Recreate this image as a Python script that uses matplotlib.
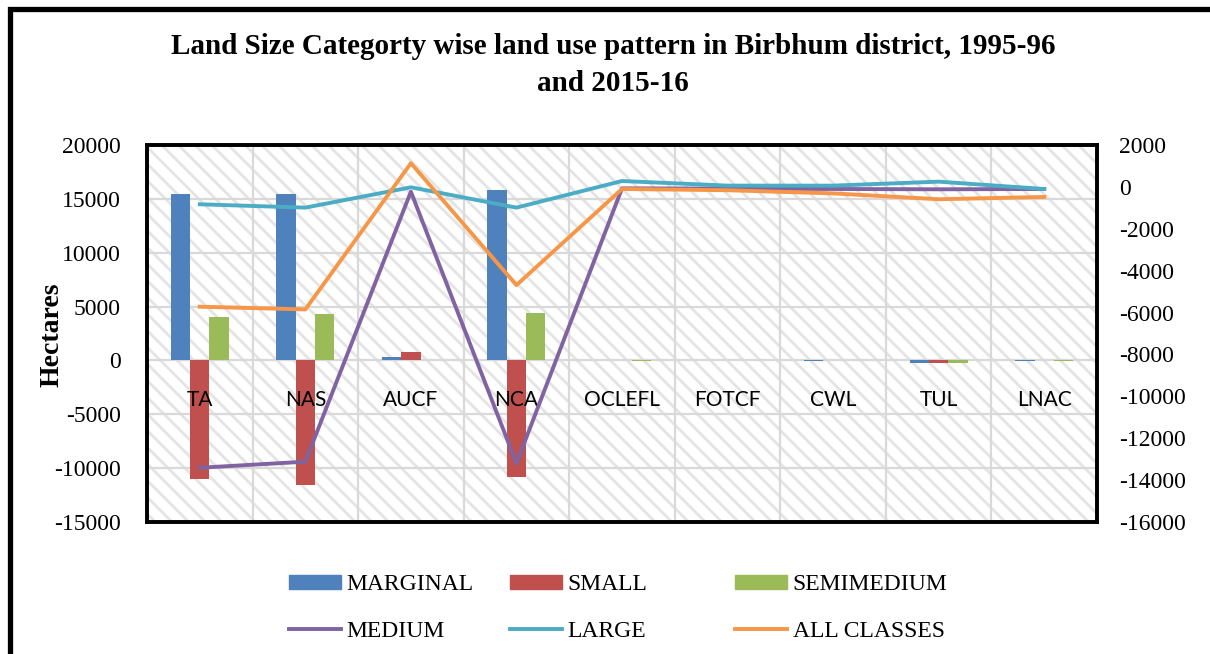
import matplotlib
matplotlib.use("Agg")
import matplotlib.pyplot as plt
from matplotlib.patches import Rectangle, Patch
from matplotlib.lines import Line2D
import numpy as np

categories = ["TA", "NAS", "AUCF", "NCA", "OCLEFL", "FOTCF", "CWL", "TUL", "LNAC"]
marginal = [15420, 15450, 290, 15790, 0, 0, -40, -200, -40]
small = [-11040, -11570, 780, -10800, 0, 0, 0, -200, 0]
semimedium = [4000, 4280, 0, 4370, -40, 0, 0, -200, -40]
medium = [-13410, -13120, -230, -13200, -70, -80, -100, -115, -100]
large = [-830, -990, -20, -990, 280, 60, 60, 250, -100]
all_classes = [-5720, -5850, 1130, -4690, -100, -160, -310, -590, -480]

left_ticks = list(range(-15000, 20001, 5000))
right_ticks = list(range(-16000, 2001, 2000))

C_BLUE = "#4F81BD"
C_RED = "#C0504D"
C_GREEN = "#9BBB59"
C_PURPLE = "#8064A2"
C_CYAN = "#4BACC6"
C_ORANGE = "#F79646"

serif = "Liberation Serif"
plt.rcParams["hatch.linewidth"] = 2.0

W, H = 1210, 654
fig = plt.figure(figsize=(W / 100, H / 100), dpi=100)
L, R, T, B = 147, 1097, 145, 522
ax = fig.add_axes([L / W, 1 - B / H, (R - L) / W, (B - T) / H])

# hatched background
bg = Rectangle((0, 0), 1, 1, transform=ax.transAxes, facecolor="white",
               edgecolor="#e4e4e4", lw=0, hatch="\\\\", zorder=0)
ax.add_patch(bg)
ax.set_facecolor("white")

x = np.arange(len(categories))
bw = 0.183
ax.bar(x - bw, marginal, bw, color=C_BLUE, zorder=3)
ax.bar(x, small, bw, color=C_RED, zorder=3)
ax.bar(x + bw, semimedium, bw, color=C_GREEN, zorder=3)

ax.set_xlim(-0.5, len(categories) - 0.5)
ax.set_ylim(-15000, 20000)
ax.set_yticks(left_ticks)
ax.set_yticklabels([str(v) for v in left_ticks], fontfamily=serif, fontsize=17)
ax.tick_params(axis="y", length=0, pad=19)
ax.set_xticks([])
for v in left_ticks:
    ax.axhline(v, color="#d9d9d9", lw=1.6, zorder=1)
for b in np.arange(0.5, len(categories) - 0.5, 1):
    ax.axvline(b, color="#d9d9d9", lw=1.6, zorder=1)

for i, c in enumerate(categories):
    ax.text(i, -3700, c, ha="center", va="center", fontfamily="Lato",
            fontsize=15, zorder=4)

for s in ax.spines.values():
    s.set_linewidth(2.6)
    s.set_color("black")

ax2 = ax.twinx()
ax2.plot(x, medium, color=C_PURPLE, lw=2.8, zorder=5)
ax2.plot(x, large, color=C_CYAN, lw=2.8, zorder=5)
ax2.plot(x, all_classes, color=C_ORANGE, lw=2.8, zorder=5)
ax2.set_ylim(-16000, 2000)
ax2.set_yticks(right_ticks)
ax2.set_yticklabels([str(v) for v in right_ticks], fontfamily=serif, fontsize=17)
ax2.tick_params(axis="y", length=0, pad=16)
for s in ax2.spines.values():
    s.set_linewidth(2.6)
    s.set_color("black")

fig.text(52 / W, 1 - 335 / H, "Hectares", rotation=90, ha="center", va="center",
         fontfamily=serif, fontweight="bold", fontsize=20)

fig.text(613 / W, 1 - 65 / H,
         "Land Size Categorty wise land use pattern in Birbhum district, 1995-96\nand 2015-16",
         ha="center", va="center", fontfamily=serif, fontweight="bold",
         fontsize=21, linespacing=1.45)

# outer frame (partially visible)
frame = Rectangle((10 / W, -0.1), 1.2, 1 - 8.5 / H + 0.1, transform=fig.transFigure,
                  fill=False, edgecolor="black", lw=3.8, zorder=10)
fig.add_artist(frame)

legend_cols = [
    (289, [Patch(color=C_BLUE), Line2D([], [], color=C_PURPLE, lw=2.8)], ["MARGINAL", "MEDIUM"]),
    (510, [Patch(color=C_RED), Line2D([], [], color=C_CYAN, lw=2.8)], ["SMALL", "LARGE"]),
    (735, [Patch(color=C_GREEN), Line2D([], [], color=C_ORANGE, lw=2.8)], ["SEMIMEDIUM", "ALL CLASSES"]),
]
for px, handles, labels in legend_cols:
    fig.legend(handles, labels, loc="upper left", bbox_to_anchor=(px / W, 1 - 574 / H),
               frameon=False, borderpad=0, borderaxespad=0, handlelength=2.2,
               handleheight=0.55, handletextpad=0.25, labelspacing=1.1,
               prop={"family": serif, "size": 17})

fig.savefig("out.png", dpi=100)
